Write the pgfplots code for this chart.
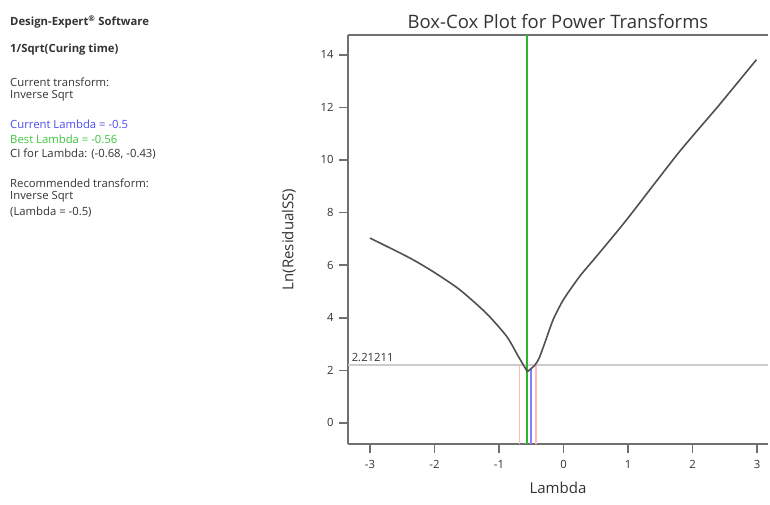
\documentclass[border=0pt]{standalone}
\usepackage{fontspec}
\setmainfont{Open Sans}
\usepackage{pgfplots}
\pgfplotsset{compat=1.18}

\definecolor{curvegray}{HTML}{505050}
\definecolor{spinegray}{HTML}{707070}
\definecolor{threshgray}{HTML}{CCCCCC}
\definecolor{bestgreen}{HTML}{2DB52D}
\definecolor{curblue}{HTML}{8080FF}
\definecolor{cipink}{HTML}{FFB8B8}
\definecolor{txtblue}{HTML}{4B4BF0}
\definecolor{txtgreen}{HTML}{3CC43C}
\definecolor{txtgray}{HTML}{333333}

\begin{document}
\begin{tikzpicture}
% page frame, 770 x 505
\path (0pt,0pt) rectangle (770pt,505pt);

% left info panel
\begin{scope}[every node/.style={anchor=west, inner sep=0pt, font=\fontsize{11.3}{12}\selectfont, text=txtgray}]
\node at (10pt,483pt) {\textbf{Design-Expert\textsuperscript{\textregistered} Software}};
\node at (10pt,455pt) {\textbf{1/Sqrt(Curing time)}};
\node at (10pt,423pt) {Current transform:};
\node at (10pt,409pt) {Inverse Sqrt};
\node[text=txtblue] at (10pt,381pt) {Current Lambda = -0.5};
\node[text=txtgreen] at (10pt,366pt) {Best Lambda = -0.56};
\node at (10pt,351pt) {CI for Lambda: (-0.68, -0.43)};
\node at (10pt,322pt) {Recommended transform:};
\node at (10pt,308pt) {Inverse Sqrt};
\node at (10pt,293pt) {(Lambda = -0.5)};
\end{scope}

\begin{axis}[
    at={(348pt,61pt)}, anchor=south west,
    scale only axis,
    width=420pt, height=409pt,
    xmin=-3.34, xmax=3.17,
    ymin=-0.8, ymax=14.75,
    axis x line*=bottom, axis y line*=left,
    x axis line style={draw=spinegray, line width=2pt, -},
    y axis line style={draw=spinegray, line width=2pt, -},
    xtick={-3,-2,-1,0,1,2,3},
    ytick={0,2,4,6,8,10,12,14},
    tick align=outside,
    major tick length=9pt,
    every tick/.style={draw=spinegray, line width=1.6pt},
    /pgf/number format/assume math mode=true,
    ticklabel style={font=\fontsize{11.3}{12}\selectfont, text=txtgray},
    xticklabel style={yshift=-4pt},
    yticklabel style={xshift=-2pt},
    xlabel={Lambda},
    ylabel={Ln(ResidualSS)},
    label style={font=\fontsize{15}{17}\selectfont, text=txtgray},
    xlabel style={yshift=-6pt},
    ylabel style={yshift=18pt},
    title={Box-Cox Plot for Power Transforms},
    title style={font=\fontsize{18.5}{20}\selectfont, text=txtgray, yshift=-3pt},
    clip=false,
]
% top frame line
\draw[draw=spinegray, line width=2pt] (rel axis cs:0,1) -- (rel axis cs:1,1);

% threshold
\addplot[draw=threshgray, line width=2.5pt] coordinates {(-3.34,2.21211) (3.17,2.21211)};
\node[anchor=south west, inner sep=1pt, font=\fontsize{11.3}{12}\selectfont, text=txtgray] at (axis cs:-3.3,2.3) {2.21211};

% CI and current lambda
\addplot[draw=cipink, line width=1.7pt] coordinates {(-0.68,-0.8) (-0.68,2.21211)};
\addplot[draw=cipink, line width=1.7pt] coordinates {(-0.43,-0.8) (-0.43,2.21211)};
\addplot[draw=curblue, line width=1.7pt] coordinates {(-0.5,-0.8) (-0.5,2.05)};

% best lambda
\addplot[draw=bestgreen, line width=1.9pt] coordinates {(-0.56,-0.8) (-0.56,14.75)};

% Box-Cox curve
\addplot[draw=curvegray, line width=1.6pt, smooth, tension=0.4] coordinates {
(-3.00,7.03) (-2.38,6.27) (-2.00,5.72) (-1.61,5.07) (-1.20,4.18)
(-0.88,3.29) (-0.70,2.53) (-0.56,1.95)};
\addplot[draw=curvegray, line width=1.6pt, smooth, tension=0.4] coordinates {
(-0.56,1.95) (-0.45,2.18) (-0.38,2.45) (-0.29,3.04) (-0.16,3.93)
(0.00,4.69) (0.25,5.57) (0.51,6.33) (0.98,7.73) (1.78,10.26)
(2.40,12.05) (2.99,13.81)};
\end{axis}
\end{tikzpicture}
\end{document}
